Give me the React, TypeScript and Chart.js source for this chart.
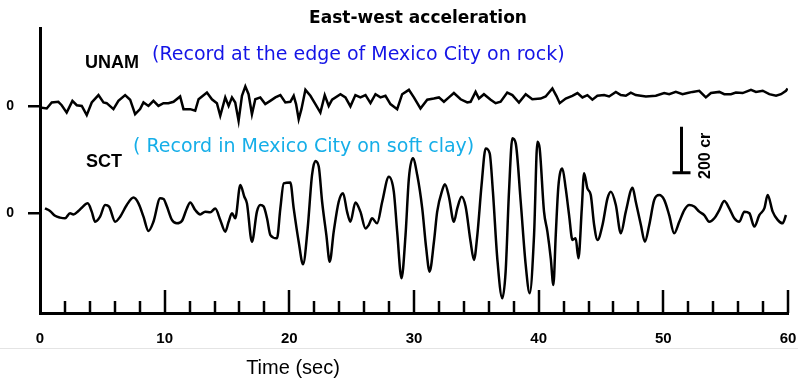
import React, { useEffect, useRef } from "react";
import { Chart, registerables } from "chart.js";

Chart.register(...registerables);

// ---- UNAM record (edge of Mexico City, rock) : time (s) and acceleration (cm/s²)
const unamTime = [
  0, 0.54, 0.94, 1.47, 1.74, 2.14, 2.6, 2.95, 3.35, 3.75,
  4.15, 4.69, 5.09, 5.35, 5.89, 6.29, 6.83, 7.23, 7.63, 8.03,
  8.3, 8.7, 9.1, 9.5, 9.9, 10.3, 10.71, 11.24, 11.51, 12.05,
  12.45, 12.72, 13.39, 13.79, 14.19, 14.46, 14.86, 15.13, 15.4, 15.66,
  15.93, 16.2, 16.47, 16.73, 17.0, 17.27, 17.67, 18.07, 18.47, 18.88,
  19.28, 19.68, 20.08, 20.35, 20.54, 20.75, 20.97, 21.29, 21.69, 22.09,
  22.49, 22.84, 23.16, 23.43, 24.1, 24.5, 24.9, 25.3, 25.7, 26.11,
  26.51, 26.91, 27.31, 27.71, 28.11, 28.65, 29.05, 29.59, 29.99, 30.52,
  31.06, 31.59, 32.0, 32.4, 32.8, 33.2, 33.74, 34.27, 34.54, 34.94,
  35.21, 35.61, 36.15, 36.55, 36.95, 37.48, 37.89, 38.42, 38.96, 39.49,
  40.16, 40.56, 41.1, 41.42, 41.69, 42.17, 42.7, 43.11, 43.51, 43.91,
  44.31, 44.71, 45.25, 45.65, 46.19, 46.59, 46.99, 47.39, 47.79, 48.6,
  49.4, 50.07, 50.47, 51.0, 51.54, 51.94, 52.34, 52.88, 53.41, 53.82,
  54.49, 54.89, 55.42, 55.82, 56.36, 57.03, 57.43, 57.97, 58.5, 59.04,
  59.44, 59.84, 59.97,
];
const unamAccel = [
  -6, -10, 16, 19, 4, -28, 23, 4, 1, -39,
  16, 48, 16, 13, -13, 23, 48, 28, -35, -13,
  16, 1, 23, 1, 13, 13, 19, 42, -13, -13,
  -20, 30, 59, 30, 13, -42, 38, 1, 38, 16,
  -64, 45, 86, 52, -35, 30, 38, 9, 23, 38,
  48, 16, 19, 45, 9, -57, -13, 71, 45, 9,
  -28, 48, 1, 28, 52, 38, -1, 48, 38, 48,
  13, 52, 38, 45, 9, -13, 52, 71, 38, -10,
  28, 33, 38, 19, 38, 57, 30, 16, 19, 62,
  33, 52, 28, 13, 19, 59, 48, 16, 52, 30,
  33, 42, 77, 45, 13, 33, 45, 57, 38, 48,
  28, 45, 48, 42, 62, 48, 45, 59, 48, 42,
  45, 57, 52, 62, 52, 57, 62, 67, 38, 57,
  62, 52, 52, 59, 57, 71, 62, 67, 52, 45,
  52, 67, 77,
];

// ---- SCT record (Mexico City, soft clay)
const sctTime = [
  0.4, 0.8, 1.21, 1.61, 2.01, 2.41, 2.68, 3.08, 3.35, 3.83,
  4.15, 4.42, 4.82, 5.22, 5.54, 6.03, 6.43, 6.96, 7.5, 7.9,
  8.3, 8.7, 9.1, 9.64, 9.91, 10.18, 10.58, 10.98, 11.38, 11.78,
  12.05, 12.45, 12.85, 13.25, 13.66, 14.06, 14.46, 14.86, 15.13, 15.4,
  15.66, 16.07, 16.39, 16.6, 17.0, 17.4, 17.67, 17.94, 18.21, 18.48,
  19.01, 19.28, 19.55, 20.08, 20.35, 20.75, 21.1, 21.47, 21.82, 22.09,
  22.36, 22.63, 22.97, 23.24, 23.56, 23.96, 24.31, 24.63, 24.9, 25.3,
  25.7, 26.11, 26.37, 26.64, 27.04, 27.45, 27.98, 28.38, 28.65, 29.0,
  29.32, 29.59, 29.91, 30.26, 30.66, 30.98, 31.25, 31.6, 31.86, 32.27,
  32.48, 32.8, 33.2, 33.47, 33.82, 34.14, 34.54, 34.81, 35.08, 35.42,
  35.75, 36.07, 36.33, 36.68, 37.08, 37.35, 37.62, 37.89, 38.16, 38.56,
  38.96, 39.28, 39.63, 39.9, 40.08, 40.43, 40.7, 40.97, 41.18, 41.37,
  41.58, 41.9, 42.17, 42.44, 42.71, 42.97, 43.19, 43.46, 43.64, 43.91,
  44.18, 44.45, 44.72, 45.12, 45.52, 45.79, 46.19, 46.59, 46.99, 47.53,
  47.79, 48.2, 48.52, 48.87, 49.27, 49.67, 50.07, 50.47, 50.87, 51.28,
  51.68, 52.08, 52.48, 52.88, 53.28, 53.68, 54.09, 54.49, 54.89, 55.29,
  55.69, 56.09, 56.5, 56.9, 57.3, 57.7, 58.1, 58.37, 58.77, 59.17,
  59.57, 59.84,
];
const sctAccel = [
  20, 9, -12, -20, -23, -1, -6, 9, 23, 42,
  6, -38, -16, 35, 28, -38, -16, 35, 67, 42,
  -16, -78, -38, 64, 61, 28, -30, -45, -35, 20,
  46, 13, -6, 6, 3, 20, -30, -81, -38, -1,
  -23, 122, 71, 42, -125, 6, 35, 28, -23, -96,
  -110, 20, 129, 133, 20, -125, -223, -67, 165, 226,
  202, 49, -96, -212, -81, 49, 86, 6, -38, 46,
  6, -67, -52, -23, -45, 49, 158, 93, -81, -284,
  -96, 151, 238, 165, 20, -154, -255, -125, 6, 100,
  125, 71, -38, 20, 71, 28, -125, -204, -96, 122,
  281, 260, 93, -197, -371, -255, 93, 325, 303, 49,
  -226, -349, -96, 310, 281, 6, -81, -197, -313, -96,
  115, 194, 107, -9, -117, -110, -197, 20, 173, 107,
  78, -52, -117, -52, 64, 93, 35, -88, 6, 110,
  49, -52, -125, -52, 57, 78, 57, -9, -88, -38,
  13, 35, 28, 6, -9, -38, -23, 13, 52, 20,
  -23, -38, 6, -1, -59, -9, 20, 78, 6, -30,
  -45, -9,
];

// traces share one axis: UNAM is drawn above the SCT baseline
const UNAM_BASELINE = 465;
const Y_MIN = -435;
const Y_MAX = 805;
const X_MIN = 0;
const X_MAX = 60;
const X_STEP = 2;
const X_MAJOR = 10;

// 200 cm/s² scale bar
const SCALE_BAR_TIME = 51.4;
const SCALE_BAR_FROM = 175;
const SCALE_BAR_SIZE = 200;

const TITLE = "East-west acceleration";
const UNAM_LABEL = "UNAM";
const UNAM_NOTE = "(Record at the edge of Mexico City on rock)";
const SCT_LABEL = "SCT";
const SCT_NOTE = "( Record in Mexico City on soft clay)";
const X_TITLE = "Time (sec)";
const BAR_LABEL = "200 cr";

const Y_TICK_FONT = { family: "'Liberation Sans', Arial, sans-serif", size: 14, weight: "bold" as const };
const X_TICK_FONT = { family: "'Liberation Sans', Arial, sans-serif", size: 15, weight: "bold" as const };

export default function App() {
  const ref = useRef<HTMLCanvasElement>(null);

  useEffect(() => {
    document.body.style.margin = "0";
    const canvas = ref.current;
    if (!canvas) return;

    const annot = {
      id: "annot",
      afterDraw(chart: any) {
        const { ctx, chartArea, scales } = chart;
        const x = scales.x;
        const y = scales.y;
        ctx.save();

        // inward tick marks on the time axis
        ctx.strokeStyle = "#000";
        ctx.lineWidth = 2.5;
        x.ticks.forEach((t: any) => {
          if (t.value === X_MIN) return;
          const px = Math.round(x.getPixelForValue(t.value));
          const len = t.value % X_MAJOR === 0 ? 23 : 12;
          ctx.beginPath();
          ctx.moveTo(px, chartArea.bottom);
          ctx.lineTo(px, chartArea.bottom - len);
          ctx.stroke();
        });

        // scale bar
        const bx = Math.round(x.getPixelForValue(SCALE_BAR_TIME)) + 0.5;
        const by0 = y.getPixelForValue(SCALE_BAR_FROM);
        const by1 = y.getPixelForValue(SCALE_BAR_FROM + SCALE_BAR_SIZE);
        ctx.lineWidth = 3;
        ctx.beginPath();
        ctx.moveTo(bx, by1);
        ctx.lineTo(bx, by0);
        ctx.moveTo(bx - 9, by0);
        ctx.lineTo(bx + 9, by0);
        ctx.stroke();

        ctx.fillStyle = "#000";
        ctx.save();
        ctx.translate(bx + 24, (by0 + by1) / 2 + 6);
        ctx.rotate(-Math.PI / 2);
        ctx.font = "bold 16px 'Liberation Sans', Arial, sans-serif";
        ctx.textAlign = "center";
        ctx.textBaseline = "middle";
        ctx.fillText(BAR_LABEL, 0, 0);
        ctx.restore();

        // title
        ctx.textBaseline = "alphabetic";
        ctx.textAlign = "center";
        ctx.font = "bold 17px 'DejaVu Sans', sans-serif";
        ctx.fillText(TITLE, 418, 23);

        // station labels
        ctx.textAlign = "left";
        ctx.font = "bold 18px 'Liberation Sans', Arial, sans-serif";
        ctx.fillText(UNAM_LABEL, 85, 68);
        ctx.fillText(SCT_LABEL, 86, 166.5);

        ctx.font = "19px 'DejaVu Sans', sans-serif";
        ctx.fillStyle = "#1414e6";
        ctx.fillText(UNAM_NOTE, 152, 60);
        ctx.fillStyle = "#16aee8";
        ctx.fillText(SCT_NOTE, 133, 152);

        // faint border line of the original scan
        ctx.strokeStyle = "#e4e4e4";
        ctx.lineWidth = 1;
        ctx.beginPath();
        ctx.moveTo(0, 348.5);
        ctx.lineTo(798, 348.5);
        ctx.stroke();

        // axis title
        ctx.fillStyle = "#000";
        ctx.textAlign = "center";
        ctx.font = "20px 'Liberation Sans', Arial, sans-serif";
        ctx.fillText(X_TITLE, 293, 374);

        ctx.restore();
      },
    };

    const chart = new Chart(canvas, {
      type: "line",
      data: {
        datasets: [
          {
            label: "UNAM",
            data: unamTime.map((t, i) => ({ x: t, y: unamAccel[i] + UNAM_BASELINE })),
            borderColor: "#000",
            borderWidth: 2.5,
            pointRadius: 0,
            pointHoverRadius: 0,
            tension: 0,
            fill: false,
          },
          {
            label: "SCT",
            data: sctTime.map((t, i) => ({ x: t, y: sctAccel[i] })),
            borderColor: "#000",
            borderWidth: 2.5,
            pointRadius: 0,
            pointHoverRadius: 0,
            cubicInterpolationMode: "monotone",
            fill: false,
          },
        ],
      },
      options: {
        responsive: false,
        animation: false,
        devicePixelRatio: 1,
        layout: { autoPadding: false, padding: { left: 6, right: 10, top: 28, bottom: 36 } },
        plugins: {
          legend: { display: false },
          tooltip: { enabled: false },
          title: { display: false },
        },
        scales: {
          x: {
            type: "linear",
            min: X_MIN,
            max: X_MAX,
            grid: { display: false, drawTicks: false },
            border: { display: true, color: "#000", width: 3 },
            afterFit: (s: any) => {
              s.height = 34;
              s.paddingLeft = 0;
              s.paddingRight = 0;
            },
            ticks: {
              stepSize: X_STEP,
              autoSkip: false,
              maxRotation: 0,
              padding: 17,
              color: "#000",
              font: X_TICK_FONT,
              callback: (v: any) => (Number(v) % X_MAJOR === 0 ? String(v) : ""),
            },
          },
          y: {
            type: "linear",
            min: Y_MIN,
            max: Y_MAX,
            afterBuildTicks: (s: any) => {
              s.ticks = [{ value: 0 }, { value: UNAM_BASELINE }];
            },
            afterFit: (s: any) => {
              s.width = 34;
              s.paddingTop = 0;
              s.paddingBottom = 0;
            },
            grid: {
              display: true,
              drawOnChartArea: false,
              drawTicks: true,
              tickLength: 12,
              color: "#000",
              lineWidth: 2.5,
            },
            border: { display: true, color: "#000", width: 3 },
            ticks: {
              padding: 14,
              color: "#000",
              font: Y_TICK_FONT,
              callback: () => "0",
            },
          },
        },
      },
      plugins: [annot],
    });

    return () => chart.destroy();
  }, []);

  return (
    <div style={{ width: 798, height: 383, background: "#fff" }}>
      <canvas ref={ref} width={798} height={383} style={{ display: "block" }} />
    </div>
  );
}
